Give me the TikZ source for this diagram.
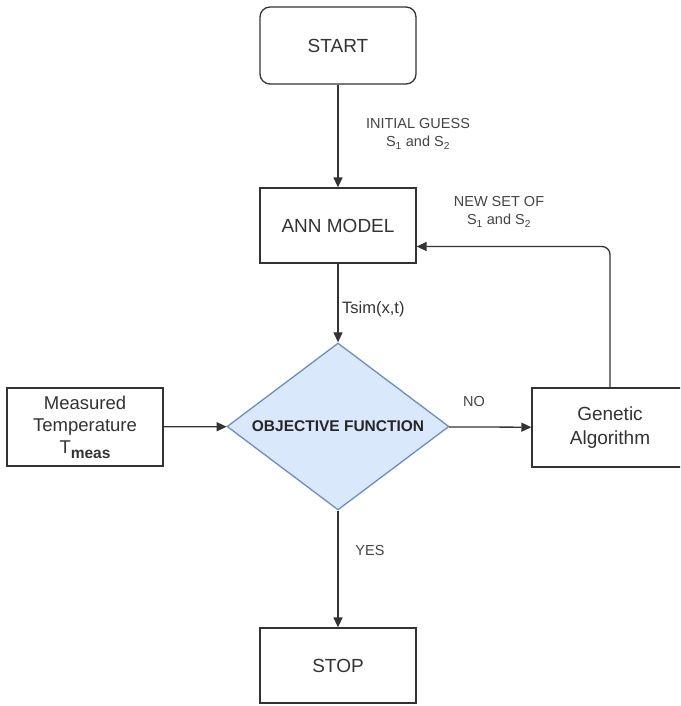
\documentclass[tikz,border=0pt]{standalone}
\usepackage{fontspec}
\setmainfont{Liberation Sans}
\usetikzlibrary{shapes.geometric,arrows.meta}
\definecolor{ink}{HTML}{333333}
\definecolor{labelgray}{HTML}{444444}
\definecolor{decfill}{HTML}{DAE8FC}
\definecolor{decdraw}{HTML}{6C8EBF}
\begin{document}
\begin{tikzpicture}[x=1pt,y=-1pt,
  box/.style={draw=ink, line width=1.3pt, minimum width=156pt, inner sep=0pt,
    align=center, text=ink, font=\fontsize{19}{22.5}\selectfont},
  decision/.style={diamond, aspect=1.33, draw=decdraw, fill=decfill, line width=1.3pt,
    minimum width=222pt, minimum height=167pt, inner sep=0pt,
    text=black!85, font=\bfseries\fontsize{15.5}{18}\selectfont},
  flow/.style={draw=ink, line width=1.3pt, -{Triangle[length=10pt,width=9pt]}},
  lbl/.style={text=labelgray, font=\fontsize{14.5}{18}\selectfont,
    align=center, inner sep=0pt}]
\fill[white] (0,0) rectangle (680,706);
\clip (0,0) rectangle (680,706);

% process blocks
\node[box, rounded corners=10pt, minimum height=77pt] (start) at (338,45.5) {START};
\node[box, minimum height=75pt] (ann) at (338,225.5) {ANN MODEL};
\node[decision] (obj) at (338,426.5) {OBJECTIVE FUNCTION};
\node[box, minimum height=78pt, font=\fontsize{18.5}{22}\selectfont] (meas) at (85,427)
  {Measured\\Temperature\\T\raisebox{-0.28em}{\fontsize{15.5}{15.5}\selectfont\bfseries meas}};
\node[box, minimum height=79pt, font=\fontsize{19}{24}\selectfont] (gen) at (610,427.5)
  {Genetic\\Algorithm};
\node[box, minimum height=75pt] (stop) at (338,665.5) {STOP};

% connectors
\draw[flow] (start) -- (ann);
\draw[flow] (ann) -- (obj);
\draw[flow] (meas) -- (obj);
\draw[flow] (obj) -- (gen);
\draw[flow] (obj) -- (stop);
\draw[flow, rounded corners=8pt] (gen.north) |- ([yshift=-21pt]ann.east);

% connector labels
\node[lbl] (lguess) at (418,134) {INITIAL GUESS\\S\textsubscript{1} and S\textsubscript{2}};
\node[lbl] (lnew) at (499,212) {NEW SET OF\\S\textsubscript{1} and S\textsubscript{2}};
\node[lbl, anchor=west, text=ink, font=\fontsize{16.5}{18}\selectfont] (ltsim) at (342,309) {Tsim(x,t)};
\node[lbl] (lno) at (474,402) {NO};
\node[lbl] (lyes) at (370,551) {YES};
\end{tikzpicture}
\end{document}
